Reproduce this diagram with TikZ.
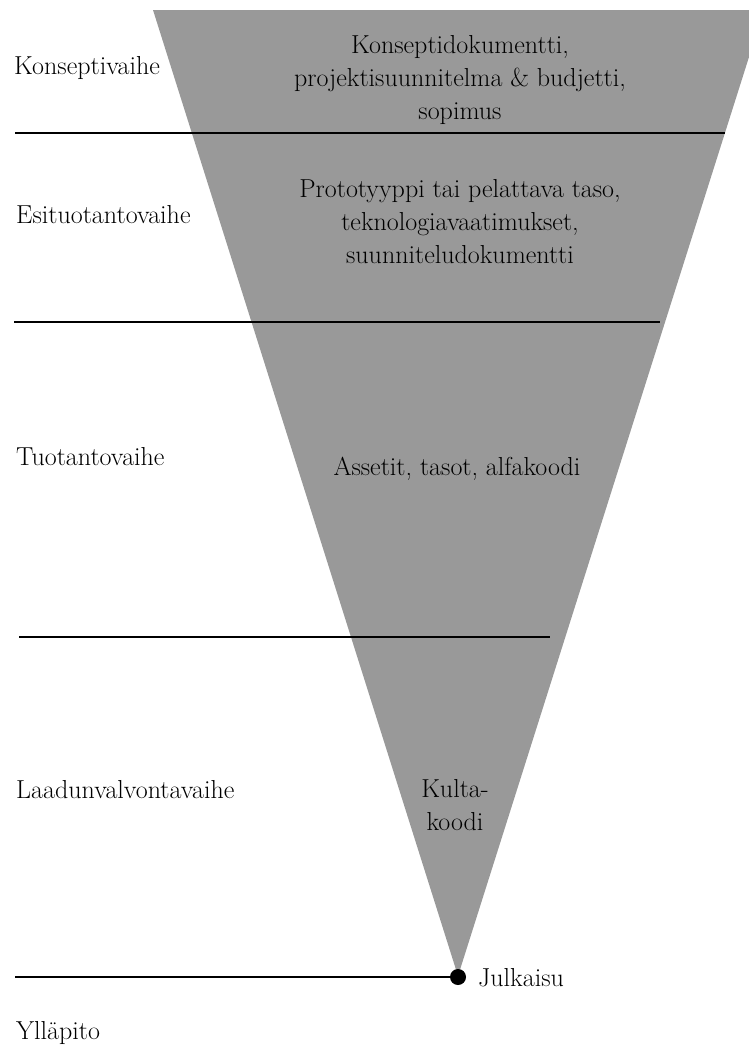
\documentclass[tikz,border=0pt]{standalone}
\definecolor{funnelgray}{RGB}{153,153,153}
\tikzset{
  phase/.style={anchor=west, inner sep=0pt, font=\fontsize{26}{33}\selectfont},
  content/.style={align=center, inner sep=0pt, font=\fontsize{26}{33}\selectfont},
  divider/.style={line width=1.5pt, black},
  milestone/.style={circle, fill=black, inner sep=0pt, minimum size=16pt}
}
\begin{document}
\begin{tikzpicture}[x=1pt,y=-1pt]
\useasboundingbox (0,0) rectangle (749,1052);
% funnel
\fill[funnelgray] (153,10) -- (749,10) -- (749,57) -- (458,976) -- cycle;
% dividers
\coordinate (d1a) at (15,133);  \coordinate (d1b) at (725,133);
\coordinate (d2a) at (14,322);  \coordinate (d2b) at (660,322);
\coordinate (d3a) at (19,637);  \coordinate (d3b) at (550,637);
\coordinate (d4a) at (15,977);
\draw[divider] (d1a) -- (d1b);
\draw[divider] (d2a) -- (d2b);
\draw[divider] (d3a) -- (d3b);
\node[milestone] (julk) at (458,977) {};
\draw[divider] (d4a) -- (julk.center);
% phase labels
\node[phase] (p1) at (14,68) {Konseptivaihe};
\node[phase] (p2) at (16,215) {Esituotantovaihe};
\node[phase] (p3) at (16,457) {Tuotantovaihe};
\node[phase] (p4) at (16,790) {Laadunvalvontavaihe};
\node[phase] (p5) at (16,1033) {Ylläpito};
\node[phase] (jl) at (478,978) {Julkaisu};
% contents
\node[content] (c1) at (460,80) {Konseptidokumentti,\\projektisuunnitelma \& budjetti,\\sopimus};
\node[content] (c2) at (460,222) {Prototyyppi tai pelattava taso,\\teknologiavaatimukset,\\suunniteludokumentti};
\node[content] (c3) at (457,469) {Assetit, tasot, alfakoodi};
\node[content] (c4) at (455,805) {Kulta-\\koodi};
\end{tikzpicture}
\end{document}
